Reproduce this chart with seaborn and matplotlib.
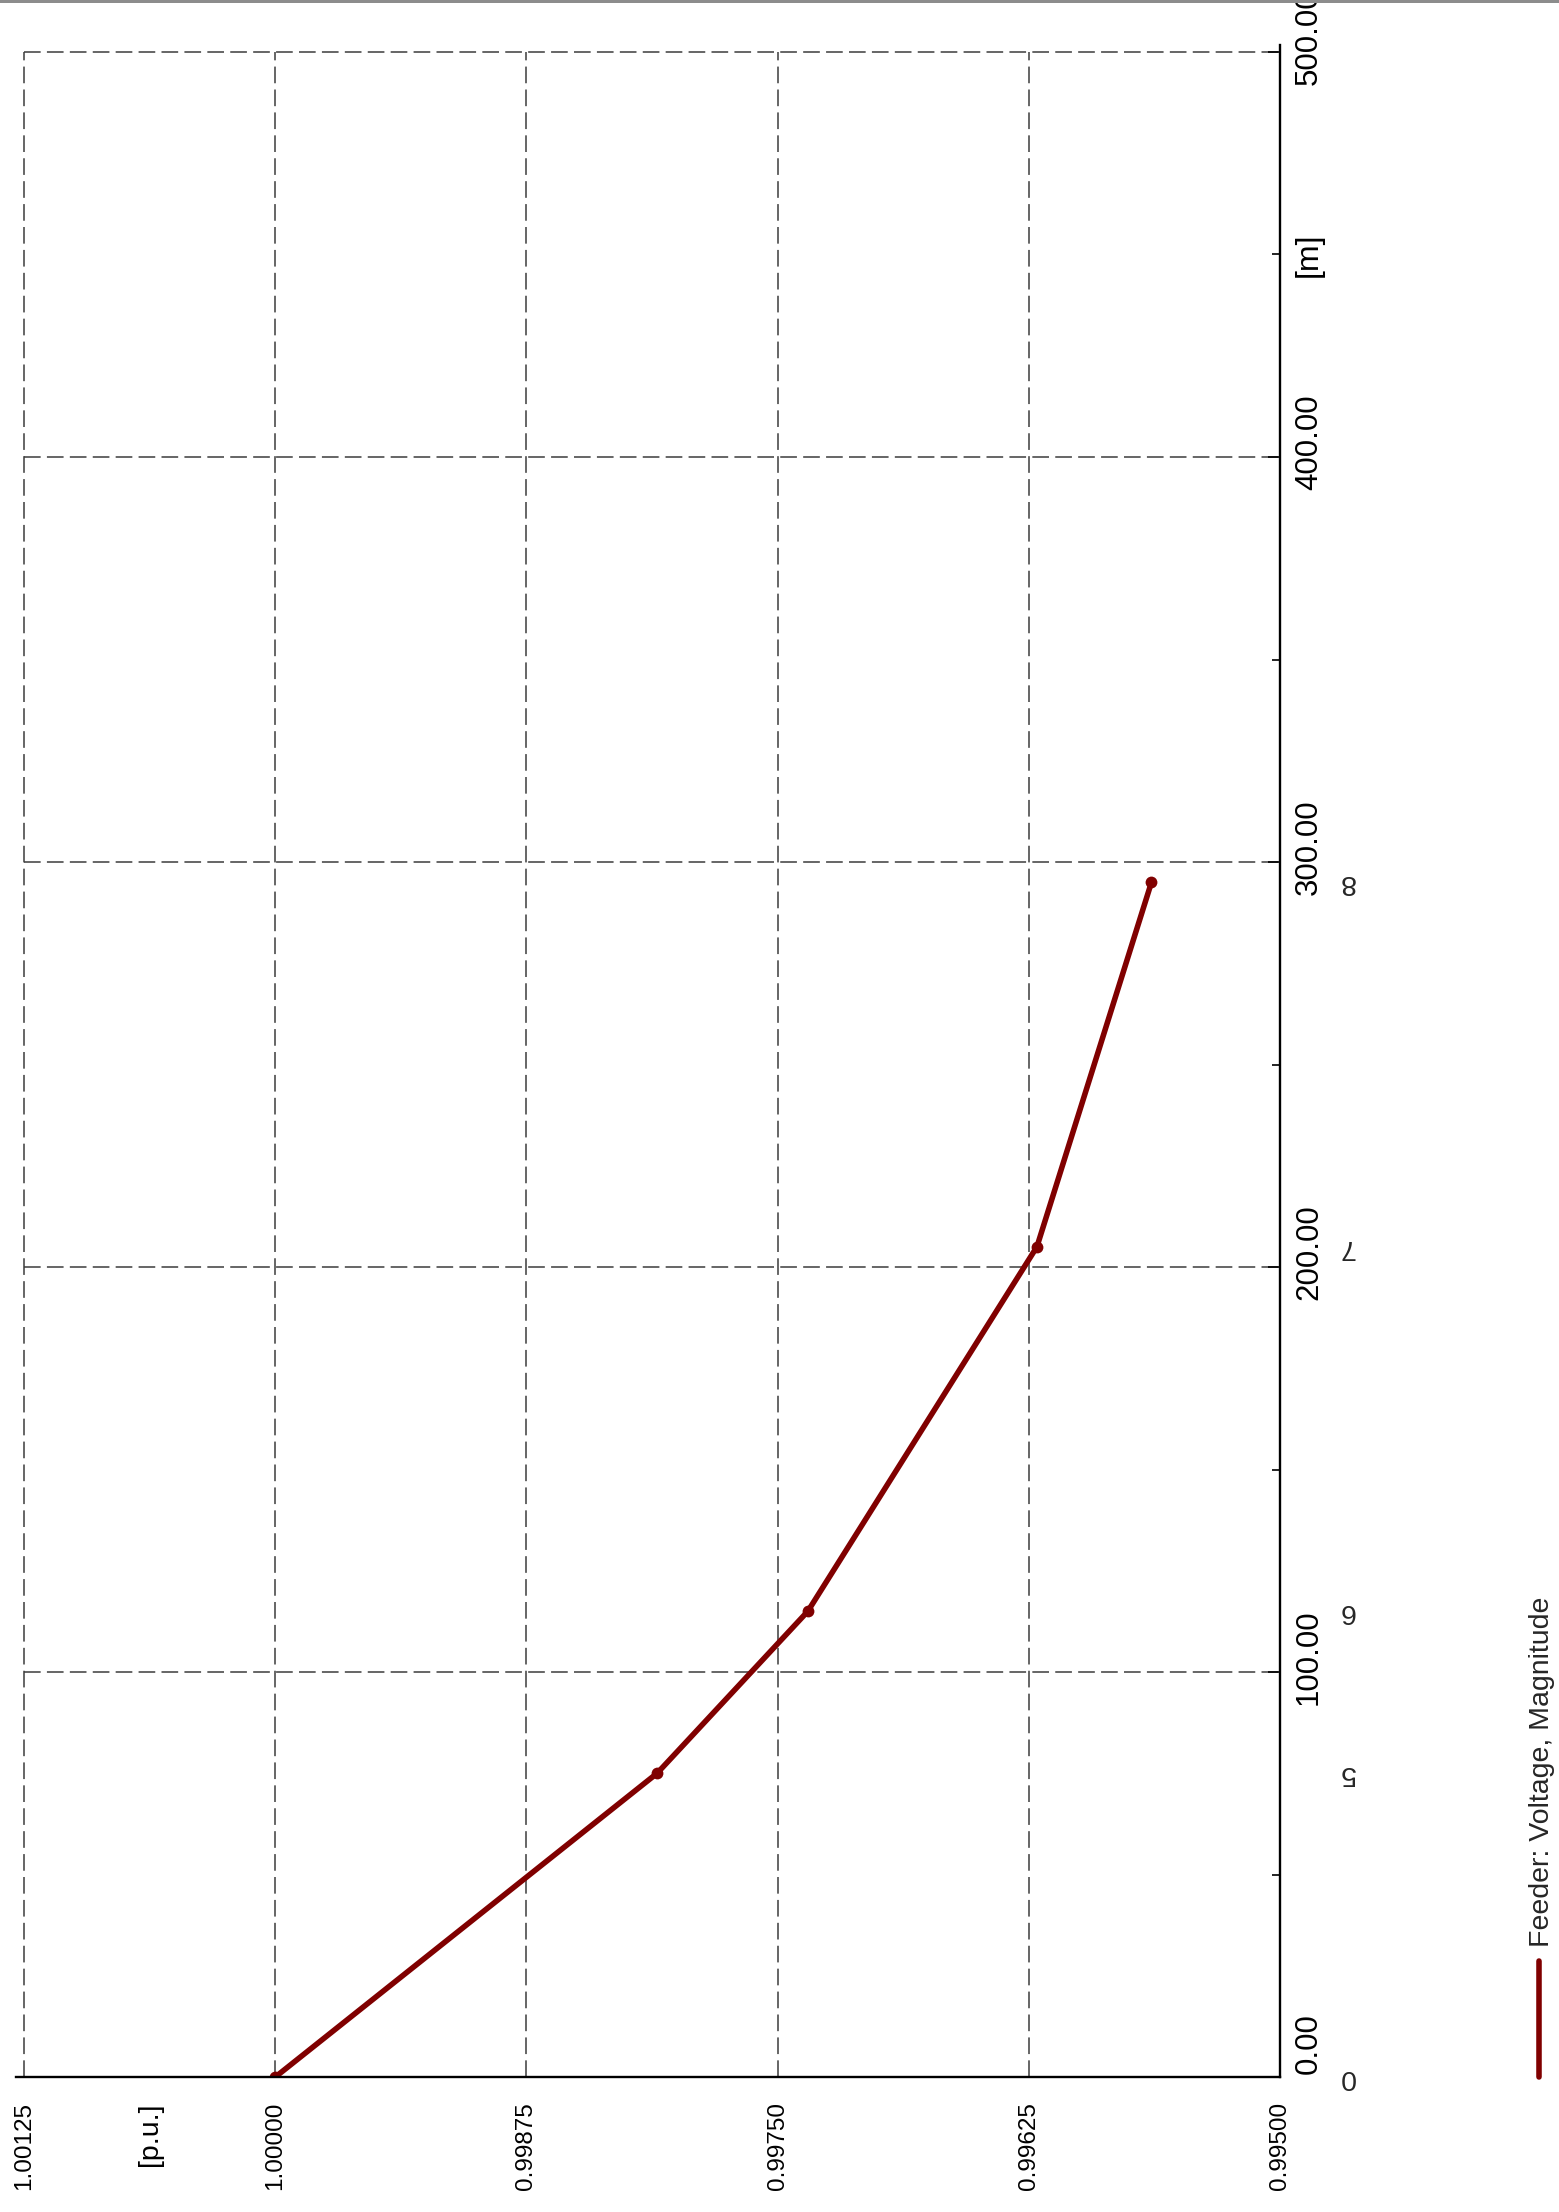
import matplotlib
matplotlib.use('Agg')
import matplotlib.pyplot as plt
import matplotlib.transforms as mtransforms
from matplotlib.lines import Line2D
from matplotlib.patches import Rectangle
import pandas as pd
import seaborn as sns

# Feeder profile: node, distance from source [m], voltage magnitude [p.u.]
nodes = ['0', '5', '6', '7', '8']
distance = [0, 75, 115, 205, 295]
voltage = [1.00000, 0.99810, 0.99735, 0.99621, 0.99564]
series_name = 'Feeder: Voltage, Magnitude'

volt_ticks = [1.00125, 1.00000, 0.99875, 0.99750, 0.99625, 0.99500]
volt_minor = [1.000625, 0.999375, 0.998125, 0.996875, 0.995625]
volt_minor_labels = ['[p.u.]', '', '', '', '']
dist_ticks = [0, 100, 200, 300, 400, 500]
dist_minor = [50, 150, 250, 350, 450]
dist_minor_labels = ['', '', '', '', '[m]']

line_color = '#800000'
fs = 20.5

df = pd.DataFrame({'node': nodes, 'distance': distance, 'voltage': voltage})

sns.set_style('white')
plt.rcParams['font.family'] = ['Liberation Sans', 'DejaVu Sans']
plt.rcParams['lines.scale_dashes'] = False

fig = plt.figure(figsize=(15.59, 22.12), dpi=100)
ax = fig.add_axes([0.0154, 0.0610, 0.8057, 0.9155])

# the whole chart is turned on its side: distance runs upwards, voltage falls to the right
sns.lineplot(data=df, x='voltage', y='distance', sort=False, estimator=None, orient='y',
             color=line_color, linewidth=4.0, marker='o', markersize=8.5,
             markeredgewidth=0, legend=False, ax=ax)

ax.set_xlim(1.00125, 0.995)
ax.set_ylim(0, 500)
ax.set_xlabel('')
ax.set_ylabel('')

# voltage axis (bottom)
ax.set_xticks(volt_ticks)
ax.set_xticklabels([f'{v:.5f}' for v in volt_ticks], rotation=90, ha='center', va='top')
ax.set_xticks(volt_minor, minor=True)
ax.set_xticklabels(volt_minor_labels, minor=True, rotation=90, ha='center', va='top')

# distance axis (right)
ax.yaxis.tick_right()
ax.set_yticks(dist_ticks)
ax.set_yticklabels([f'{d:.2f}' for d in dist_ticks], rotation=90, ha='left', va='bottom')
ax.set_yticks(dist_minor, minor=True)
ax.set_yticklabels(dist_minor_labels, minor=True, rotation=90, ha='left', va='center')

ax.tick_params(axis='both', which='major', direction='in', length=8.6, width=1.2,
               colors='black')
ax.tick_params(axis='both', which='minor', direction='in', length=5.5, width=1.2,
               colors='black')
ax.tick_params(axis='x', which='major', pad=18, labelsize=17.5)
ax.tick_params(axis='x', which='minor', pad=18, labelsize=fs)
ax.tick_params(axis='y', which='major', pad=10, labelsize=22.5)
ax.tick_params(axis='y', which='minor', pad=10, labelsize=23)

# shift the distance labels like the original tool does
for lab, d in zip(ax.get_yticklabels(), dist_ticks):
    dy = 3 if d == 0 else -33
    lab.set_transform(lab.get_transform() +
                      mtransforms.ScaledTranslation(0, dy / 100, fig.dpi_scale_trans))

ax.grid(True, which='major', color='#3c3c3c', linestyle=(0, (12, 4.5)), linewidth=1.1,
        clip_on=False)

for side in ['top', 'left']:
    ax.spines[side].set_visible(False)
for side in ['bottom', 'right']:
    ax.spines[side].set_color('black')
    ax.spines[side].set_linewidth(1.7)
ax.spines['right'].set_bounds(0, 501.7)
ax.spines['bottom'].set_bounds(1.00129, 0.995)

# node names next to the distance axis
for name, d in zip(nodes, distance):
    ax.text(1.053, d, name, transform=ax.get_yaxis_transform(), rotation=180,
            ha='center', va='center', fontsize=fs)

# sideways legend
fig.add_artist(Line2D([1539 / 1559] * 2, [(2212 - 2077) / 2212, (2212 - 1961) / 2212],
                      transform=fig.transFigure, color=line_color, linewidth=4.0,
                      solid_capstyle='round'))
fig.text(1542 / 1559, (2212 - 1947) / 2212, series_name, rotation=90,
         ha='center', va='bottom', fontsize=fs)

# thin grey strip along the top edge
fig.add_artist(Rectangle((0, 1 - 3 / 2212), 1, 3 / 2212, transform=fig.transFigure,
                         facecolor='#8c8c8c', edgecolor='none'))

fig.savefig('out.png', dpi=100, facecolor='white')
